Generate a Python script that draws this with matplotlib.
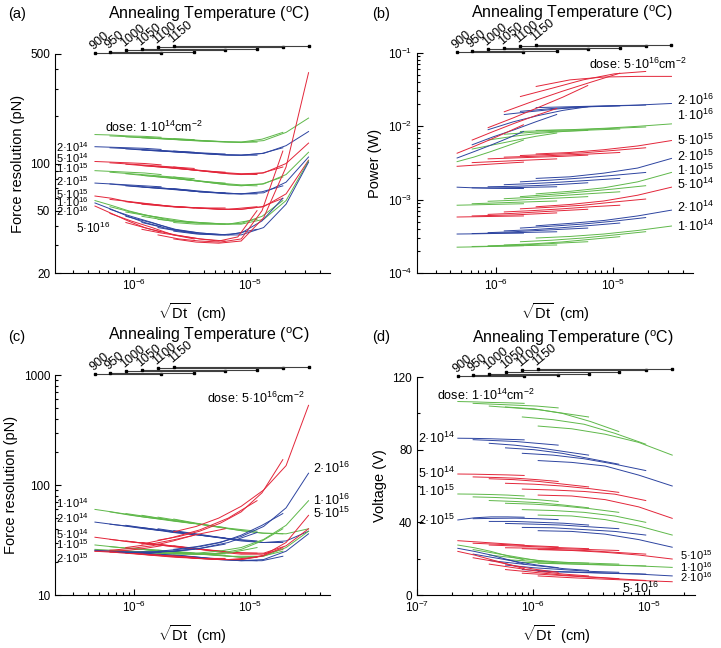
import numpy as np
import matplotlib
matplotlib.use('Agg')
import matplotlib.pyplot as plt
from matplotlib import ticker
from matplotlib.transforms import blended_transform_factory

plt.rcParams['font.family'] = ['Liberation Sans', 'DejaVu Sans']
plt.rcParams['mathtext.fontset'] = 'custom'
plt.rcParams['mathtext.rm'] = 'Liberation Sans'
plt.rcParams['mathtext.it'] = 'Liberation Sans:italic'

# annealing temperatures and sqrt(Dt) range of each one
TEMPS = [900, 950, 1000, 1050, 1100, 1150]
X_START = [4.6e-7, 6.2e-7, 8.5e-7, 1.17e-6, 1.61e-6, 2.2e-6]
X_END = [1.71e-6, 3.3e-6, 6.1e-6, 1.15e-5, 1.92e-5, 3.2e-5]
X_START_D = [2.25e-7, 3.05e-7, 4.2e-7, 5.8e-7, 8.1e-7, 1.11e-6]
X_END_D = [8.4e-7, 1.65e-6, 3.02e-6, 5.5e-6, 9.4e-6, 1.59e-5]

DOSES = ['1·10$^{14}$', '2·10$^{14}$', '5·10$^{14}$', '1·10$^{15}$', '2·10$^{15}$',
         '5·10$^{15}$', '1·10$^{16}$', '2·10$^{16}$', '5·10$^{16}$']

# (a) force resolution (pN); rows = temperatures, points evenly spread (log) over each range
A_1E14 = [[153, 152, 150, 149, 147], [150, 148, 146, 144, 142], [148, 145, 142, 140, 138],
          [146, 143, 139, 137, 137], [145, 142, 140, 138, 137, 143, 158],
          [144, 141, 138, 136, 140, 158, 195]]
A_2E14 = [[128, 127, 126, 125, 123], [126, 124, 122, 120, 118], [124, 121, 119, 117, 115],
          [122, 119, 116, 113, 113], [121, 118, 116, 114, 113, 116, 126],
          [120, 117, 114, 113, 116, 130, 160]]
A_5E14 = [[103, 102, 101, 100, 98], [101, 99, 97, 95, 93], [99, 96, 93, 90, 88],
          [97, 94, 90, 86, 85], [96, 93, 90, 87, 85, 87, 95],
          [95, 91, 88, 86, 87, 100, 135]]
A_1E15 = [[90, 89, 88, 87, 85], [88, 86, 84, 82, 80], [86, 83, 80, 77, 75],
          [84, 81, 77, 73, 72], [83, 80, 77, 74, 72, 74, 82],
          [82, 78, 75, 73, 74, 85, 118]]
A_2E15 = [[75, 74, 73, 72, 71], [74, 72, 70, 69, 67], [72, 70, 68, 66, 65],
          [71, 69, 66, 64, 64], [70, 68, 66, 65, 64, 66, 72],
          [69, 67, 65, 64, 65, 76, 110]]
A_5E15 = [[62, 60, 57, 55, 54], [59, 57, 55, 53, 52], [57, 55, 53, 52, 52],
          [55, 53, 52, 51, 53], [54, 53, 52, 51, 51, 53, 60],
          [53, 52, 51, 51, 53, 64, 105]]
A_1E16 = [[58, 54, 50, 47, 45], [53, 49, 46, 44, 42], [49, 46, 43, 42, 41],
          [46, 43, 42, 41, 44], [44, 42.5, 41.5, 41, 41.5, 46, 58],
          [42, 41, 41, 41, 44, 58, 104]]
A_2E16 = [[56, 51, 46, 42, 39.5], [51, 46, 42, 38, 36], [46, 42, 38, 36, 35],
          [42, 38, 36, 35, 38], [39, 37, 35.5, 35, 36, 43, 60],
          [37, 35.5, 35, 35, 39, 55, 102]]
A_5E16 = [[53.5, 48, 43, 39, 36.5], [48, 43, 39, 35, 33], [42, 38, 35, 33, 32],
          [38, 36, 34.5, 33, 32, 34, 50], [35, 33, 32, 31.5, 33, 50, 120],
          [33, 31.5, 31, 32, 45, 95, 380]]

# (b) power (W)
B_1E14 = [[2.25e-4, 2.27e-4, 2.30e-4, 2.33e-4, 2.36e-4], [2.30e-4, 2.32e-4, 2.35e-4, 2.38e-4, 2.41e-4],
          [2.35e-4, 2.40e-4, 2.47e-4, 2.57e-4, 2.67e-4], [2.41e-4, 2.50e-4, 2.65e-4, 2.88e-4, 3.13e-4],
          [2.67e-4, 2.80e-4, 3.00e-4, 3.30e-4, 3.66e-4], [3.00e-4, 3.15e-4, 3.40e-4, 3.80e-4, 4.37e-4]]
B_2E14 = [[3.40e-4, 3.42e-4, 3.45e-4, 3.48e-4, 3.50e-4], [3.45e-4, 3.50e-4, 3.55e-4, 3.60e-4, 3.65e-4],
          [3.55e-4, 3.65e-4, 3.80e-4, 3.95e-4, 4.10e-4], [3.75e-4, 3.90e-4, 4.15e-4, 4.45e-4, 4.80e-4],
          [4.10e-4, 4.35e-4, 4.65e-4, 5.10e-4, 5.70e-4], [4.40e-4, 4.75e-4, 5.20e-4, 6.00e-4, 7.20e-4]]
B_5E14 = [[5.80e-4, 5.85e-4, 5.90e-4, 5.95e-4, 6.00e-4], [6.00e-4, 6.10e-4, 6.20e-4, 6.40e-4, 6.60e-4],
          [6.30e-4, 6.50e-4, 6.80e-4, 7.10e-4, 7.40e-4], [6.80e-4, 7.10e-4, 7.50e-4, 8.00e-4, 8.40e-4],
          [7.50e-4, 7.90e-4, 8.40e-4, 9.30e-4, 1.02e-3], [8.00e-4, 8.60e-4, 9.60e-4, 1.15e-3, 1.48e-3]]
B_1E15 = [[8.4e-4, 8.5e-4, 8.6e-4, 8.7e-4, 8.8e-4], [8.8e-4, 9.0e-4, 9.2e-4, 9.4e-4, 9.6e-4],
          [9.5e-4, 9.8e-4, 1.02e-3, 1.06e-3, 1.10e-3], [1.03e-3, 1.08e-3, 1.14e-3, 1.21e-3, 1.28e-3],
          [1.10e-3, 1.18e-3, 1.28e-3, 1.40e-3, 1.55e-3], [1.20e-3, 1.30e-3, 1.45e-3, 1.75e-3, 2.35e-3]]
B_2E15 = [[1.48e-3, 1.45e-3, 1.43e-3, 1.42e-3, 1.42e-3], [1.45e-3, 1.45e-3, 1.46e-3, 1.48e-3, 1.50e-3],
          [1.50e-3, 1.52e-3, 1.56e-3, 1.62e-3, 1.70e-3], [1.60e-3, 1.66e-3, 1.74e-3, 1.84e-3, 1.95e-3],
          [1.75e-3, 1.85e-3, 1.98e-3, 2.15e-3, 2.35e-3], [1.95e-3, 2.05e-3, 2.30e-3, 2.70e-3, 3.65e-3]]
B_5E15 = [[2.85e-3, 2.95e-3, 3.05e-3, 3.15e-3, 3.25e-3], [3.20e-3, 3.30e-3, 3.40e-3, 3.50e-3, 3.60e-3],
          [3.60e-3, 3.70e-3, 3.80e-3, 3.90e-3, 4.05e-3], [3.80e-3, 3.90e-3, 4.05e-3, 4.20e-3, 4.40e-3],
          [4.00e-3, 4.15e-3, 4.35e-3, 4.70e-3, 5.10e-3], [4.20e-3, 4.40e-3, 4.80e-3, 5.40e-3, 6.40e-3]]
B_1E16 = [[3.3e-3, 3.8e-3, 4.5e-3, 5.4e-3, 6.5e-3], [4.9e-3, 5.6e-3, 6.4e-3, 7.3e-3, 8.1e-3],
          [6.5e-3, 7.3e-3, 8.0e-3, 8.5e-3, 8.8e-3], [7.8e-3, 8.3e-3, 8.6e-3, 8.9e-3, 9.2e-3],
          [8.5e-3, 8.8e-3, 9.0e-3, 9.4e-3, 9.8e-3], [8.8e-3, 9.0e-3, 9.4e-3, 1.0e-2, 1.08e-2]]
B_2E16 = [[3.7e-3, 4.5e-3, 5.5e-3, 6.8e-3, 8.5e-3], [5.6e-3, 7.2e-3, 9.0e-3, 1.15e-2, 1.45e-2],
          [9.0e-3, 1.15e-2, 1.4e-2, 1.65e-2, 1.85e-2], [1.45e-2, 1.6e-2, 1.75e-2, 1.85e-2, 1.9e-2],
          [1.6e-2, 1.75e-2, 1.85e-2, 1.9e-2, 1.95e-2], [1.8e-2, 1.85e-2, 1.9e-2, 1.95e-2, 2.05e-2]]
B_5E16 = [[4.3e-3, 5.3e-3, 6.6e-3, 8.3e-3, 1.05e-2], [6.5e-3, 8.5e-3, 1.1e-2, 1.4e-2, 1.75e-2],
          [9.6e-3, 1.3e-2, 1.8e-2, 2.5e-2, 3.6e-2], [1.58e-2, 2.2e-2, 3.0e-2, 4.0e-2, 5.3e-2],
          [2.55e-2, 3.3e-2, 4.3e-2, 5.2e-2, 5.6e-2], [3.5e-2, 4.3e-2, 4.7e-2, 4.8e-2, 4.8e-2]]

# (c) force resolution (pN)
C_1E14 = [[60, 57, 54, 51, 49], [57, 53, 50, 47, 44.5], [55, 51, 47, 44, 41],
          [53, 48, 44, 40.5, 38], [51, 47.5, 44, 41, 38.5, 36.5, 36],
          [49, 45, 41.5, 38.5, 36.5, 36, 40]]
C_2E14 = [[46, 44, 42, 40, 38.5], [44, 42, 39.5, 37, 35.5], [43, 40, 37, 35, 33],
          [41, 38, 35, 32.5, 31], [40, 37.5, 35, 33, 31, 30, 30],
          [38.5, 36, 33.5, 31.5, 30, 31, 38]]
C_5E14 = [[33.5, 32, 30.5, 29.5, 28.5], [32, 30.5, 29, 27.5, 26.5], [31, 29, 27.5, 26, 25],
          [30, 28, 26, 24.5, 24], [29, 27.5, 26, 24.5, 23.5, 23.5, 26],
          [28, 26.5, 25, 24, 24, 28, 40]]
C_1E15 = [[28.5, 27.5, 26.5, 26, 25.5], [27.5, 26.5, 25.5, 24.5, 24], [27, 25.5, 24.5, 23.5, 23],
          [26, 25, 23.5, 22.5, 22.5], [25.5, 24.5, 23.5, 23, 22, 22.5, 25],
          [25, 24, 23, 22, 22.5, 27, 38]]
C_2E15 = [[25.5, 25, 24.5, 24, 23.5], [25, 24, 23.5, 22.5, 22], [24.5, 23.5, 22.5, 21.5, 21],
          [24, 23, 22, 21, 20.5], [23.5, 23, 22, 21, 20.5, 20.5, 22.5],
          [23, 22, 21, 20.5, 21, 25, 36]]
C_5E15 = [[25, 24.5, 24, 23.5, 23], [24.5, 24, 23, 22.5, 22], [24, 23, 22, 21.5, 21.5],
          [23.5, 22.5, 21.5, 21, 22], [23, 22.5, 21.5, 21, 21, 22.5, 27],
          [22.5, 21.5, 21, 21, 23, 30, 53]]
C_1E16 = [[26, 25.5, 25, 24.5, 24], [25.5, 25, 24.5, 24, 23.5], [25, 24.5, 24, 23.5, 24],
          [24.5, 24, 23.5, 24, 27], [24, 23.5, 23.5, 24, 26, 31, 40],
          [24, 24, 25, 27, 32, 43, 72]]
C_2E16 = [[25.5, 25, 24.5, 24.5, 24.5], [25, 24.5, 24.5, 25, 26], [24.5, 24.5, 25, 26.5, 29],
          [24.5, 25, 26.5, 30, 37], [25, 26, 27.5, 30, 35, 43, 55],
          [26, 27.5, 30, 34, 42, 62, 128]]
C_5E16 = [[25, 25, 25.5, 26.5, 28], [25.5, 26.5, 28, 31, 35], [27, 29, 32, 36, 40],
          [29, 33, 39, 50, 72], [31.5, 34, 38, 45, 57, 85, 170],
          [37.5, 42, 50, 64, 90, 150, 530]]

# (d) voltage (V)
D_1E14 = [[106.5, 106.3, 106, 105.8, 105.5], [105.5, 105, 104.5, 104, 103], [104, 103, 102, 100, 98],
          [103.5, 102.5, 100, 95.5, 90], [98, 96.5, 94, 89, 83], [93, 91.5, 88.5, 84, 77]]
D_2E14 = [[86.3, 86.2, 86, 85.7, 85.4], [85.5, 85, 84.5, 83.5, 82.5], [83.5, 82.5, 81, 79, 77],
          [81, 80, 78, 75, 72], [78, 77, 75, 72, 68.5], [74, 73, 71, 66, 60]]
D_5E14 = [[66.6, 66.5, 66.3, 66.1, 65.8], [65, 64.7, 64.3, 63.5, 62.5], [64, 63.5, 62.5, 61, 59.5],
          [61.5, 61, 60, 58.5, 56.5], [58.3, 57.8, 57, 55.5, 52], [55, 54.5, 52.5, 48.5, 42.2]]
D_1E15 = [[55.6, 55.5, 55.3, 55, 54.5], [54, 53.7, 53.2, 52.5, 51.5], [52, 51.5, 50.8, 49.5, 48],
          [50.5, 50, 49, 47.5, 45.5], [47, 46.5, 45.5, 43.5, 40], [44, 43.5, 41.5, 38, 33]]
D_2E15 = [[41.3, 42.5, 43, 43, 42.8], [42, 42.2, 42.3, 42, 41.5], [40.5, 40.5, 40, 39.5, 38.5],
          [39.4, 39, 38.5, 37.5, 36.5], [37.2, 37, 36, 35, 33], [35.4, 35, 33.5, 30.5, 26.3]]
D_5E15 = [[29.9, 29.3, 28.7, 28.1, 27.5], [28.5, 28, 27.5, 27, 26.5], [27.5, 27, 26.5, 26, 25.5],
          [26, 25.8, 25.5, 25, 24.5], [25.5, 25, 24.5, 23.5, 22.5], [25, 24.5, 23.5, 22, 19.8]]
D_1E16 = [[27.5, 26, 24, 21.5, 19.3], [25, 23, 21, 19, 17.5], [22, 20.5, 19, 18, 17.5],
          [19.5, 18.5, 18, 17.5, 17], [18, 17.5, 17, 16.5, 16], [17.5, 17, 16.5, 16, 15.2]]
D_2E16 = [[25.7, 24, 22, 19.5, 17], [22.5, 20.5, 18.5, 16.5, 15], [19, 17.5, 16, 14.5, 13.5],
          [16.5, 15, 14, 13, 12.5], [14, 13, 12.5, 12, 11.5], [13, 12.5, 12, 11.5, 10.5]]
D_5E16 = [[24, 22, 19.5, 17, 14.5], [20.5, 18.5, 16, 14, 12.5], [17, 15, 13, 11.5, 10.5],
          [14, 12.5, 11, 10, 9], [12, 11, 10, 9, 8], [10.5, 9.5, 8.7, 8, 7.3]]

PANEL_A = [A_1E14, A_2E14, A_5E14, A_1E15, A_2E15, A_5E15, A_1E16, A_2E16, A_5E16]
PANEL_B = [B_1E14, B_2E14, B_5E14, B_1E15, B_2E15, B_5E15, B_1E16, B_2E16, B_5E16]
PANEL_C = [C_1E14, C_2E14, C_5E14, C_1E15, C_2E15, C_5E15, C_1E16, C_2E16, C_5E16]
PANEL_D = [D_1E14, D_2E14, D_5E14, D_1E15, D_2E15, D_5E15, D_1E16, D_2E16, D_5E16]

GREEN, BLUE, RED = '#5fb84a', '#2d44a0', '#e3263a'
DOSE_COLORS = [GREEN, BLUE, RED] * 3

W, H = 721, 648
fig = plt.figure(figsize=(W / 100, H / 100), dpi=100)


def box(l, t, r, b):
    return [l / W, 1 - b / H, (r - l) / W, (b - t) / H]


def draw_curves(ax, panel, xs, xe):
    for k, dose in enumerate(panel):
        for i, ys in enumerate(dose):
            x = np.geomspace(xs[i], xe[i], len(ys))
            ax.plot(x, ys, color=DOSE_COLORS[k], lw=0.7)


def temp_bar(ax, xs, xe):
    tr = blended_transform_factory(ax.transData, ax.transAxes)
    bar_y = [1.003, 1.009, 1.016, 1.023, 1.030, 1.038]
    for i, t in enumerate(TEMPS):
        ax.plot([xs[i], xe[i]], [bar_y[i]] * 2, color='0.25', lw=0.8,
                transform=tr, clip_on=False)
        ax.plot([xs[i], xe[i]], [bar_y[i]] * 2, 's', ms=2, color='k',
                transform=tr, clip_on=False)
        ax.text(xs[i], bar_y[i] + 0.004, str(t), rotation=40, rotation_mode='anchor',
                ha='left', va='bottom', fontsize=9, transform=tr)
    ax.text(0.56, 1.18, 'Annealing Temperature ($^{\\mathrm{o}}$C)', transform=ax.transAxes,
            ha='center', va='center', fontsize=11.5)


def style(ax):
    for s in ['top', 'right']:
        ax.spines[s].set_visible(False)
    ax.tick_params(which='both', direction='in', labelsize=8.5, width=0.8)
    ax.tick_params(which='major', length=4)
    ax.tick_params(which='minor', length=2)
    ax.xaxis.set_minor_formatter(ticker.NullFormatter())
    ax.set_xlabel(r'$\sqrt{\mathrm{Dt}}$  (cm)', fontsize=10.5, labelpad=6)


ax_a = fig.add_axes(box(55, 54, 330, 273))
ax_b = fig.add_axes(box(417, 53, 693, 273))
ax_c = fig.add_axes(box(55, 375, 330, 595))
ax_d = fig.add_axes(box(417, 377, 695, 595))

for ax in [ax_a, ax_b, ax_c, ax_d]:
    ax.set_xscale('log')
for ax in [ax_a, ax_b, ax_c]:
    ax.set_yscale('log')

draw_curves(ax_a, PANEL_A, X_START, X_END)
draw_curves(ax_b, PANEL_B, X_START, X_END)
draw_curves(ax_c, PANEL_C, X_START, X_END)
draw_curves(ax_d, PANEL_D, X_START_D, X_END_D)

temp_bar(ax_a, X_START, X_END)
temp_bar(ax_b, X_START, X_END)
temp_bar(ax_c, X_START, X_END)
temp_bar(ax_d, X_START_D, X_END_D)

for ax in [ax_a, ax_b, ax_c]:
    ax.set_xlim(2.08e-7, 4.9e-5)
ax_d.set_xlim(1e-7, 2.5e-5)

LBL = 8   # stacked labels are tight, keep them a bit smaller

# (a)
ax_a.set_ylim(20, 500)
ax_a.set_yticks([20, 50, 100, 500])
ax_a.set_yticklabels(['20', '50', '100', '500'])
ax_a.set_ylabel('Force resolution (pN)', fontsize=10.5)
ax_a.text(5.6e-7, 171, 'dose: ' + DOSES[0] + 'cm$^{-2}$', fontsize=9, va='center')
for k, y in zip(range(1, 8), [128, 108, 93, 77, 64, 56.5, 50]):
    ax_a.text(4.05e-7, y, DOSES[k], fontsize=LBL, ha='right', va='center')
ax_a.text(6.2e-7, 38.6, DOSES[8], fontsize=8.5, ha='right', va='center')

# (b)
ax_b.set_ylim(1e-4, 1e-1)
ax_b.set_ylabel('Power (W)', fontsize=10.5)
ax_b.text(6.2e-6, 6.9e-2, 'dose: ' + DOSES[8] + 'cm$^{-2}$', fontsize=9, va='center')
for k, y in zip(range(7, -1, -1), [2.29e-2, 1.43e-2, 6.5e-3, 3.86e-3, 2.54e-3, 1.59e-3, 7.9e-4, 4.37e-4]):
    ax_b.text(3.56e-5, y, DOSES[k], fontsize=9, ha='left', va='center')

# (c)
ax_c.set_ylim(10, 1000)
ax_c.set_yticks([10, 100, 1000])
ax_c.set_yticklabels(['10', '100', '1000'])
ax_c.set_ylabel('Force resolution (pN)', fontsize=10.5)
ax_c.text(4.3e-6, 617, 'dose: ' + DOSES[8] + 'cm$^{-2}$', fontsize=9, va='center')
for k, y in zip(range(5), [68.6, 50, 35.6, 29.3, 21.7]):
    ax_c.text(4.05e-7, y, DOSES[k], fontsize=LBL, ha='right', va='center')
for k, y in zip([7, 6, 5], [143, 73, 55.6]):
    ax_c.text(3.5e-5, y, DOSES[k], fontsize=9, ha='left', va='center')

# (d)
ax_d.set_ylim(0, 120)
ax_d.yaxis.set_major_locator(ticker.MultipleLocator(40))
ax_d.yaxis.set_minor_locator(ticker.MultipleLocator(20))
ax_d.set_ylabel('Voltage (V)', fontsize=10.5)
ax_d.text(1.49e-7, 110, 'dose: ' + DOSES[0] + 'cm$^{-2}$', fontsize=9, va='center')
for k, y in zip(range(1, 5), [86.4, 67, 56.9, 41.3]):
    ax_d.text(2.1e-7, y, DOSES[k], fontsize=9, ha='right', va='center')
for k, y in zip([5, 6, 7], [21.8, 15.6, 9.8]):
    ax_d.text(1.85e-5, y, DOSES[k], fontsize=LBL, ha='left', va='center')
ax_d.text(5.86e-6, 3.9, DOSES[8], fontsize=9, ha='left', va='center')

for ax in [ax_a, ax_b, ax_c, ax_d]:
    style(ax)
for ax in [ax_a, ax_b, ax_c]:
    ax.yaxis.set_minor_formatter(ticker.NullFormatter())

for lab, px, py in [('(a)', 8, 14), ('(b)', 372, 14), ('(c)', 8, 337), ('(d)', 372, 337)]:
    fig.text(px / W, 1 - py / H, lab, fontsize=10.5, ha='left', va='center')

fig.savefig('out.png', dpi=100)
